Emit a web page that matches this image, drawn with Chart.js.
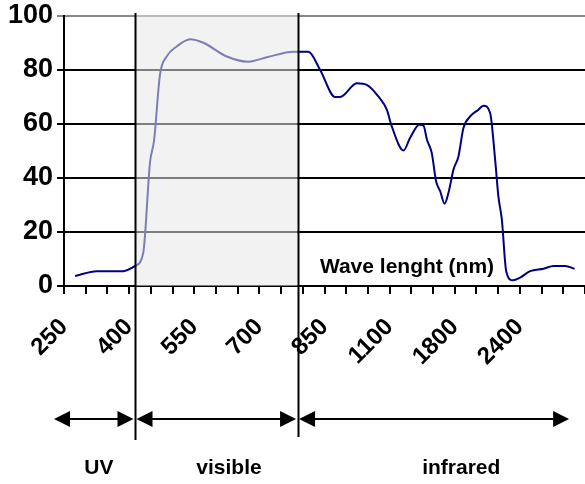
<!DOCTYPE html>
<html>
<head>
<meta charset="utf-8">
<script src="https://cdn.jsdelivr.net/npm/chart.js@4/dist/chart.umd.min.js"></script>
<style>
  html, body { margin: 0; padding: 0; background: #fff; }
  canvas { display: block; }
</style>
</head>
<body>
<canvas id="spectrum" width="585" height="484"></canvas>
<script>
// x is measured in axis slots: one slot per small tick, a label every third tick
const slotPos = [0.51, 1.51, 2.73, 3.27, 3.65, 3.96, 4.15, 4.42, 4.73, 5.19, 5.81, 6.42, 7.5, 8.49, 9.34,
  10.57, 11.26, 11.8, 12.49, 12.72, 13.49, 13.95, 14.48, 14.87, 15.1, 15.64, 15.94, 16.37, 16.56, 16.72,
  16.94, 17.14, 17.33, 17.53, 17.71, 17.94, 18.17, 18.4, 18.71, 19.09, 19.32, 19.63, 19.86, 20.01, 20.17,
  20.37, 20.68, 21.01, 21.47, 22.09, 22.55, 23.09, 23.52];
const transmission = [3.7, 5.5, 5.5, 7.4, 12.3, 45.6, 54, 78.2, 85, 88.7, 91.4, 90.1, 85, 83.1, 84.7,
  86.8, 86.8, 80, 70, 70, 75.1, 74.5, 70.2, 65.3, 59.1, 50.2, 54.8, 59.7, 59.4, 54.2,
  49.3, 38.8, 35.1, 30.5, 34.5, 43.1, 48, 58.5, 62.8, 65.3, 66.8, 64.1, 46.8, 33.2, 24.6,
  5.5, 2.1, 3.1, 5.5, 6.4, 7.4, 7.4, 6.4];
const wavelengthLabels = ["250", "400", "550", "700", "850", "1100", "1800", "2400"];
const yTicks = [0, 20, 40, 60, 80, 100];

// spectral bands: arrow ends and label centres in slot units
const bandEdges = [-0.46, 3.27, 10.76, 23.27];
const bandNames = ["UV", "visible", "infrared"];
const bandLabelPos = [1.61, 7.6, 18.3];
const axisTitle = "Wave lenght (nm)";
const axisTitleAt = { x: 15.8, y: 7 };

const FONT = "'Liberation Sans', Arial, sans-serif";

const bandPlugin = {
  id: "bands",
  afterDatasetsDraw(chart) {
    const { ctx, chartArea, scales: { x, y } } = chart;
    const x0 = x.getPixelForValue(bandEdges[1]);
    const x1 = x.getPixelForValue(bandEdges[2]);
    ctx.save();
    // translucent shading over the visible range
    ctx.fillStyle = "rgba(231,231,231,0.54)";
    ctx.fillRect(x0, chartArea.top - 1, x1 - x0, chartArea.bottom - chartArea.top + 1);

    ctx.fillStyle = "#000";
    ctx.font = "bold 21px " + FONT;
    ctx.textAlign = "center";
    ctx.textBaseline = "middle";
    ctx.fillText(axisTitle, x.getPixelForValue(axisTitleAt.x), y.getPixelForValue(axisTitleAt.y));
    ctx.restore();
  },
  afterDraw(chart) {
    const { ctx, chartArea, scales: { x } } = chart;
    const arrowY = 419;
    const head = 16, half = 8;
    ctx.save();
    ctx.strokeStyle = "#000";
    ctx.fillStyle = "#000";
    ctx.lineWidth = 2;

    // boundary lines between bands
    [bandEdges[1], bandEdges[2]].forEach((v, i) => {
      const px = Math.round(x.getPixelForValue(v)) + 0.5;
      ctx.beginPath();
      ctx.moveTo(px, chartArea.top - 3);
      ctx.lineTo(px, i === 0 ? 440 : 437);
      ctx.stroke();
    });

    const arrowHead = (tipX, dir) => {
      ctx.beginPath();
      ctx.moveTo(tipX, arrowY);
      ctx.lineTo(tipX - dir * head, arrowY - half);
      ctx.lineTo(tipX - dir * head, arrowY + half);
      ctx.closePath();
      ctx.fill();
    };

    for (let i = 0; i < bandNames.length; i++) {
      const a = x.getPixelForValue(bandEdges[i]) + (i === 0 ? 0 : 1.5);
      const b = x.getPixelForValue(bandEdges[i + 1]) - (i === bandNames.length - 1 ? 0 : 1.5);
      ctx.beginPath();
      ctx.moveTo(a + 4, arrowY);
      ctx.lineTo(b - 4, arrowY);
      ctx.stroke();
      arrowHead(a, -1);
      arrowHead(b, 1);
    }

    ctx.font = "bold 21px " + FONT;
    ctx.textAlign = "center";
    ctx.textBaseline = "middle";
    bandNames.forEach((name, i) => {
      ctx.fillText(name, x.getPixelForValue(bandLabelPos[i]), 468);
    });
    ctx.restore();
  }
};

new Chart(document.getElementById("spectrum"), {
  type: "line",
  data: {
    datasets: [{
      data: slotPos.map((p, i) => ({ x: p, y: transmission[i] })),
      borderColor: "#000080",
      borderWidth: 2,
      pointRadius: 0,
      cubicInterpolationMode: "monotone",
      fill: false,
    }],
  },
  options: {
    responsive: false,
    animation: false,
    devicePixelRatio: 1,
    layout: { padding: { top: 16, right: 0, left: 0, bottom: 0 } },
    plugins: { legend: { display: false }, tooltip: { enabled: false } },
    scales: {
      x: {
        type: "linear",
        min: 0,
        max: 24,
        afterFit: (s) => { s.height = 198; s.paddingLeft = 0; s.paddingRight = 0; },
        border: { display: true, color: "#000", width: 2 },
        grid: { drawOnChartArea: false, drawTicks: true, tickLength: 8, color: "#000", lineWidth: 2 },
        ticks: {
          stepSize: 1,
          autoSkip: false,
          maxRotation: 45,
          minRotation: 45,
          padding: 19,
          color: "#000",
          font: { family: FONT, size: 24, weight: "bold" },
          callback: (v) => (v % 3 === 0 && v / 3 < wavelengthLabels.length ? wavelengthLabels[v / 3] : ""),
        },
      },
      y: {
        min: 0,
        max: 100,
        afterFit: (s) => { s.width = 64; s.paddingTop = 0; s.paddingBottom = 0; },
        afterBuildTicks: (s) => { s.ticks = yTicks.map((v) => ({ value: v })); },
        border: { display: true, color: "#000", width: 2 },
        grid: {
          color: (c) => (c.tick && c.tick.value === 100 ? "#888" : "#000"),
          lineWidth: 2,
          tickLength: 7,
        },
        ticks: {
          padding: 4,
          color: "#000",
          font: { family: FONT, size: 27, weight: "bold" },
        },
      },
    },
  },
  plugins: [bandPlugin],
});
</script>
</body>
</html>
